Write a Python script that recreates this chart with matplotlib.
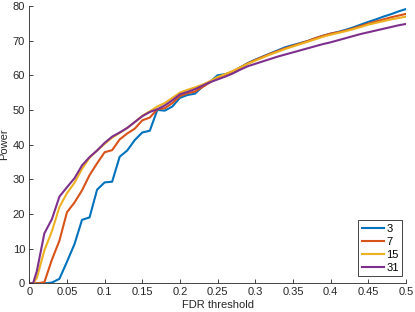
"""Power vs FDR threshold for several window sizes."""

import matplotlib
matplotlib.use("Agg")
import matplotlib.pyplot as plt
import numpy as np

plt.rcParams["font.family"] = ["Liberation Sans", "DejaVu Sans"]

fdr = [0, 0.005, 0.01, 0.02, 0.03, 0.04, 0.05, 0.06, 0.07, 0.08, 0.09,
       0.10, 0.11, 0.12, 0.13, 0.14, 0.15, 0.16, 0.17, 0.18, 0.19,
       0.20, 0.21, 0.22, 0.23, 0.24, 0.25, 0.26, 0.27, 0.28, 0.29,
       0.30, 0.31, 0.32, 0.33, 0.34, 0.35, 0.36, 0.37, 0.38, 0.39,
       0.40, 0.41, 0.42, 0.43, 0.44, 0.45, 0.46, 0.47, 0.48, 0.49, 0.50]

power_3 = [0, 0, 0, 0, 0.2, 1.3, 6.2, 11.3, 18.3, 19.0, 27.0,
           29.1, 29.3, 36.5, 38.3, 41.3, 43.5, 44.0, 50.0, 49.8, 51.0,
           53.5, 54.3, 54.7, 56.7, 58.1, 60.0, 60.3, 61.0, 62.3, 63.5,
           64.5, 65.4, 66.3, 67.2, 68.1, 68.7, 69.3, 69.9, 70.7, 71.4,
           72.0, 72.5, 73.1, 73.8, 74.6, 75.4, 76.1, 76.9, 77.6, 78.4, 79.1]

power_7 = [0, 0, 0, 0.3, 6.8, 12.3, 20.5, 23.3, 26.8, 31.2, 34.6,
           37.8, 38.4, 41.5, 43.2, 44.6, 47.0, 47.8, 50.2, 50.5, 52.0,
           54.0, 54.8, 55.3, 56.6, 58.0, 59.3, 60.2, 61.1, 62.2, 63.4,
           64.4, 65.3, 66.2, 67.0, 67.8, 68.5, 69.2, 69.9, 70.7, 71.4,
           72.0, 72.4, 72.9, 73.5, 74.2, 74.9, 75.5, 76.1, 76.7, 77.2, 77.7]

power_15 = [0, 0, 1.5, 9.5, 15.0, 22.0, 26.0, 29.0, 33.0, 36.2, 38.3,
            40.2, 42.0, 43.4, 44.8, 46.5, 48.3, 49.6, 51.0, 52.0, 53.5,
            55.0, 55.8, 56.5, 57.3, 58.3, 59.5, 60.3, 61.2, 62.3, 63.3,
            64.2, 65.1, 66.0, 66.8, 67.6, 68.3, 69.0, 69.7, 70.4, 71.1,
            71.7, 72.2, 72.7, 73.3, 73.9, 74.6, 75.1, 75.6, 76.1, 76.5, 76.9]

power_31 = [0, 0, 3.5, 14.4, 18.5, 25.0, 27.7, 30.3, 34.0, 36.4, 38.3,
            40.5, 42.3, 43.5, 44.8, 46.5, 48.2, 49.4, 50.2, 51.3, 52.8,
            54.5, 55.2, 56.0, 57.0, 58.0, 58.8, 59.6, 60.5, 61.6, 62.6,
            63.3, 64.0, 64.7, 65.4, 66.0, 66.6, 67.2, 67.8, 68.4, 69.0,
            69.5, 70.1, 70.7, 71.3, 71.9, 72.4, 72.9, 73.4, 73.9, 74.4, 74.8]

labels = ["3", "7", "15", "31"]
colors = ["#0072BD", "#D95319", "#EDB120", "#7E2F8E"]

x_ticks = [0, 0.05, 0.1, 0.15, 0.2, 0.25, 0.3, 0.35, 0.4, 0.45, 0.5]
x_tick_labels = ["0", "0.05", "0.1", "0.15", "0.2", "0.25", "0.3",
                 "0.35", "0.4", "0.45", "0.5"]
y_ticks = [0, 10, 20, 30, 40, 50, 60, 70, 80]

axis_gray = "#262626"


def main() -> None:
    fig = plt.figure(figsize=(4.15, 3.12), dpi=100)
    ax = fig.add_axes([0.0706, 0.092, 0.9074, 0.889])

    series = [power_3, power_7, power_15, power_31]
    for values, label, color in zip(series, labels, colors):
        ax.plot(fdr, values, color=color, lw=1.5, label=label)

    ax.set_xlim(0, 0.5)
    ax.set_ylim(0, 80)
    ax.set_xticks(x_ticks)
    ax.set_xticklabels(x_tick_labels)
    ax.set_yticks(y_ticks)

    ax.set_xlabel("FDR threshold", fontsize=8, color=axis_gray, labelpad=1.5)
    ax.set_ylabel("Power", fontsize=8, color=axis_gray)
    ax.yaxis.set_label_coords(-0.054, 0.5)

    for side in ("top", "right"):
        ax.spines[side].set_visible(False)
    for side in ("left", "bottom"):
        ax.spines[side].set_color(axis_gray)
        ax.spines[side].set_linewidth(0.6)
    ax.tick_params(direction="in", length=3, width=0.6, colors=axis_gray,
                   labelsize=8, pad=3)

    leg = ax.legend(loc="lower right", bbox_to_anchor=(0.99, 0.025),
                    fontsize=8, fancybox=False, framealpha=1,
                    handlelength=2.0, handletextpad=0.2, borderpad=0.3,
                    labelspacing=0.28, borderaxespad=0)
    leg.get_frame().set_edgecolor(axis_gray)
    leg.get_frame().set_linewidth(0.6)

    fig.savefig("out.png", dpi=100)


if __name__ == "__main__":
    main()
